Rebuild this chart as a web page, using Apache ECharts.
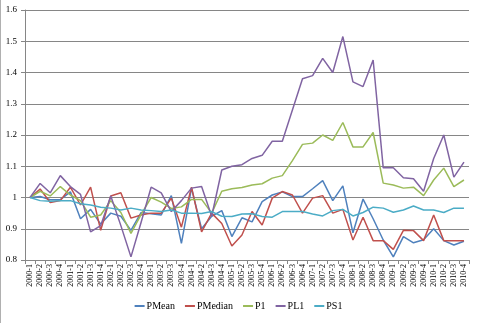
<!DOCTYPE html>
<html>
<head>
<meta charset="utf-8">
<script src="https://cdn.jsdelivr.net/npm/echarts@6/dist/echarts.min.js"></script>
<style>html,body{margin:0;padding:0;background:#fff}#c{width:477px;height:323px}</style>
</head>
<body>
<div id="c"></div>
<script>
var categories = [];
var years = [2000,2001,2002,2003,2004,2005,2006,2007,2008,2009,2010];
years.forEach(function(y){ for (var q = 1; q <= 4; q++) categories.push(y + '-' + q); });

var PMean = [1.0,1.003,0.993,0.993,1.018,0.932,0.962,0.915,0.95,0.94,0.895,0.952,0.948,0.944,1.006,0.853,1.03,0.9,0.94,0.958,0.875,0.935,0.922,0.987,1.008,1.018,1.003,1.003,1.028,1.054,0.99,1.037,0.887,0.995,0.932,0.864,0.81,0.875,0.855,0.865,0.9,0.862,0.848,0.86];
var PMedian = [1.0,1.027,0.984,0.99,1.033,0.976,1.033,0.895,1.005,1.015,0.934,0.944,0.95,0.95,0.998,0.905,1.033,0.89,0.95,0.917,0.845,0.88,0.955,0.912,0.998,1.019,1.008,0.95,0.998,1.006,0.95,0.962,0.864,0.937,0.862,0.862,0.834,0.895,0.894,0.862,0.944,0.862,0.862,0.862];
var P1 = [1.0,1.02,1.005,1.035,1.008,0.99,0.937,0.944,0.99,0.952,0.885,0.945,1.0,0.985,0.965,0.97,0.994,0.994,0.95,1.02,1.028,1.032,1.04,1.044,1.062,1.07,1.118,1.17,1.174,1.2,1.183,1.24,1.162,1.162,1.208,1.046,1.04,1.03,1.033,1.006,1.056,1.094,1.035,1.056];
var PL1 = [1.0,1.045,1.015,1.07,1.035,1.01,0.89,0.91,1.005,0.91,0.81,0.92,1.033,1.015,0.955,0.99,1.03,1.035,0.94,1.088,1.1,1.105,1.125,1.135,1.18,1.18,1.28,1.38,1.39,1.445,1.4,1.515,1.37,1.355,1.44,1.095,1.095,1.063,1.06,1.02,1.125,1.2,1.065,1.113];
var PS1 = [1.0,0.99,0.988,0.99,0.99,0.98,0.976,0.969,0.966,0.96,0.966,0.96,0.958,0.955,0.96,0.95,0.95,0.949,0.955,0.94,0.939,0.947,0.948,0.939,0.937,0.955,0.955,0.955,0.947,0.941,0.958,0.962,0.941,0.952,0.969,0.966,0.953,0.96,0.973,0.96,0.96,0.952,0.966,0.966];

var seriesNames = ['PMean','PMedian','P1','PL1','PS1'];
var seriesData = [PMean, PMedian, P1, PL1, PS1];
var colors = ['#4F81BD','#C0504D','#9BBB59','#8064A2','#4BACC6'];
var font = '"Liberation Serif", "DejaVu Serif", serif';

var chart = echarts.init(document.getElementById('c'), null, {renderer: 'canvas'});
chart.setOption({
  animation: false,
  backgroundColor: '#fff',
  color: colors,
  graphic: [{type: 'line', shape: {x1: 0.5, y1: 0, x2: 0.5, y2: 323}, style: {stroke: '#b0b0b0', lineWidth: 1}}],
  grid: {left: 25, right: 8, top: 10, bottom: 63, containLabel: false},
  legend: {
    data: seriesNames,
    bottom: 7,
    left: 'center',
    itemWidth: 10,
    itemHeight: 2,
    itemGap: 10,
    icon: 'rect',
    textStyle: {fontFamily: font, fontSize: 10, color: '#000', padding: [0,0,0,-3]}
  },
  xAxis: {
    type: 'category',
    data: categories,
    boundaryGap: true,
    axisLine: {lineStyle: {color: '#868686', width: 1}},
    axisTick: {show: true, length: 4, lineStyle: {color: '#868686'}},
    axisLabel: {rotate: 90, interval: 0, fontFamily: font, fontSize: 8, color: '#000', margin: 4}
  },
  yAxis: {
    type: 'value',
    min: 0.8, max: 1.6, interval: 0.1,
    axisLine: {show: true, lineStyle: {color: '#868686', width: 1}},
    axisTick: {show: true, length: 4, lineStyle: {color: '#868686'}},
    axisLabel: {fontFamily: font, fontSize: 9, color: '#000', margin: 8,
      formatter: function(v){ return String(parseFloat(v.toFixed(1))); }},
    splitLine: {lineStyle: {color: '#868686', width: 1}}
  },
  series: seriesNames.map(function(n, i){
    return {name: n, type: 'line', data: seriesData[i], symbol: 'none',
      lineStyle: {width: 1.5, color: colors[i]}, itemStyle: {color: colors[i]}};
  })
});
</script>
</body>
</html>
